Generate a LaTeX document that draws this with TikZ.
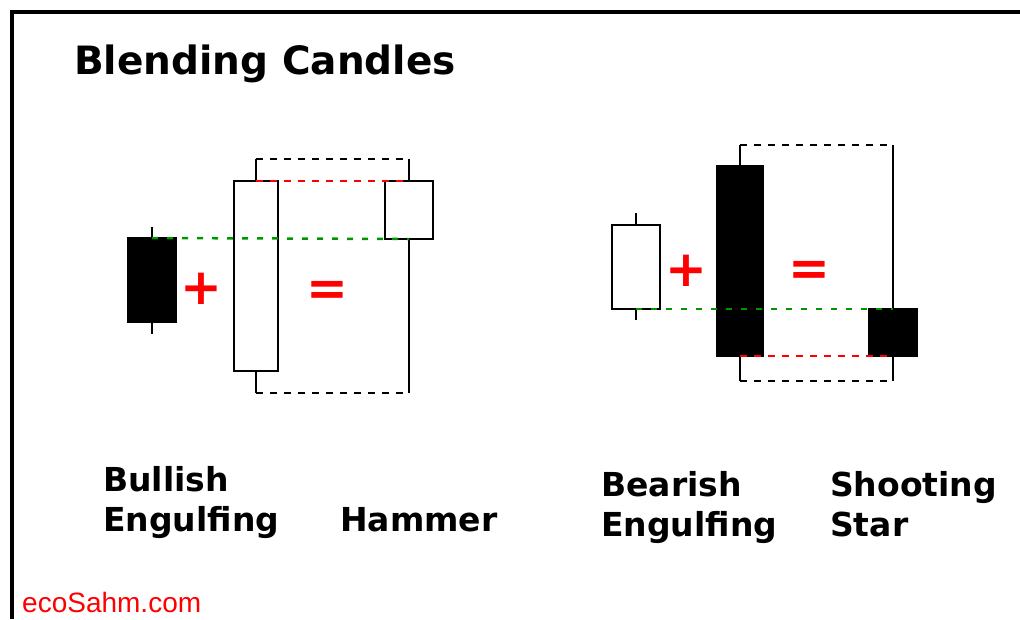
\documentclass[tikz,border=0pt]{standalone}
\usepackage{fontspec}
\setmainfont{DejaVu Sans}
\newfontfamily\sitefont{Liberation Sans}
\usetikzlibrary{positioning}
\definecolor{signred}{RGB}{255,0,0}
\definecolor{levelgreen}{RGB}{0,150,0}

\begin{document}
\begin{tikzpicture}[x=1pt,y=-1pt,
    body/.style={draw,line width=2.5pt,minimum width=48pt,inner sep=0pt,outer sep=0pt},
    wick/.style={line width=2.5pt},
    level/.style={line width=2.5pt,dash pattern=on 7pt off 7pt},
    greenlevel/.style={line width=2.5pt,levelgreen,dash pattern=on 6pt off 9pt},
    namelabel/.style={font=\fontsize{33}{40}\selectfont\bfseries,anchor=base west,inner sep=0pt,align=left},
    sign/.style={font=\fontsize{50}{50}\selectfont\bfseries,text=signred,inner sep=0pt}]
    \useasboundingbox (0,0) rectangle (1020,619);

    % draw frame
    \draw[line width=3.5pt] (12,619) -- (12,12) -- (1020,12);

    % draw title
    \node[font=\fontsize{39}{39}\selectfont\bfseries,anchor=base west,inner sep=0pt] (title) at (74,74) {Blending Candles};

    % draw candle bodies
    \node[body,fill=black,minimum height=84pt] (bull1) at (152,280) {};
    \node[body,fill=white,minimum width=44pt,minimum height=190pt] (bull2) at (256,276) {};
    \node[body,fill=white,minimum height=58pt] (hammer) at (409,210) {};
    \node[body,fill=white,minimum height=84pt] (bear1) at (636,267) {};
    \node[body,fill=black,minimum width=45pt,minimum height=190pt] (bear2) at (740,261) {};
    \node[body,fill=black,minimum width=47pt,minimum height=47pt] (star) at (893,332.5) {};

    % wick ends
    \coordinate (bull1top) at (152,227);
    \coordinate (bull1bot) at (152,334);
    \coordinate (bull2top) at (256,159);
    \coordinate (bull2bot) at (256,393);
    \coordinate (hammertop) at (409,159);
    \coordinate (hammerbot) at (409,393);
    \coordinate (bear1top) at (636,213);
    \coordinate (bear1bot) at (636,320);
    \coordinate (bear2top) at (740,145);
    \coordinate (bear2bot) at (740,381);
    \coordinate (startop) at (893,145);
    \coordinate (starbot) at (893,381);

    % draw wicks
    \foreach \c in {bull1,bull2,hammer,bear1,bear2,star}
    {
        \draw[wick] (\c.north) -- (\c top);
        \draw[wick] (\c.south) -- (\c bot);
    }

    % draw dashed levels
    \draw[level] (bull2top) -- (hammertop);
    \draw[level] (bull2bot) -- (hammerbot);
    \draw[level,signred] (bull2.north) -- (hammer.north);
    \draw[greenlevel] (bull1.north) -- (hammer.south);
    \draw[level] (bear2top) -- (startop);
    \draw[level] (bear2bot) -- (starbot);
    \draw[level,signred] (bear2.south) -- (star.south);
    \draw[greenlevel] (bear1.south) -- (star.north);

    % draw signs
    \node[sign] (plusleft) at (201,289) {+};
    \node[sign] (eqleft) at (327,293) {=};
    \node[sign] (plusright) at (686,271) {+};
    \node[sign] (eqright) at (809,273) {=};

    % draw names
    \node[namelabel] (bullname) at (103,531) {Bullish\\Engulfing};
    \node[namelabel] (hammername) at (340,531) {Hammer};
    \node[namelabel] (bearname) at (601,536) {Bearish\\Engulfing};
    \node[namelabel] (starname) at (830,536) {Shooting\\Star};
    \node[text=signred,font=\sitefont\fontsize{28}{28}\selectfont,anchor=base west,inner sep=0pt] (site) at (22,612) {ecoSahm.com};
\end{tikzpicture}
\end{document}
